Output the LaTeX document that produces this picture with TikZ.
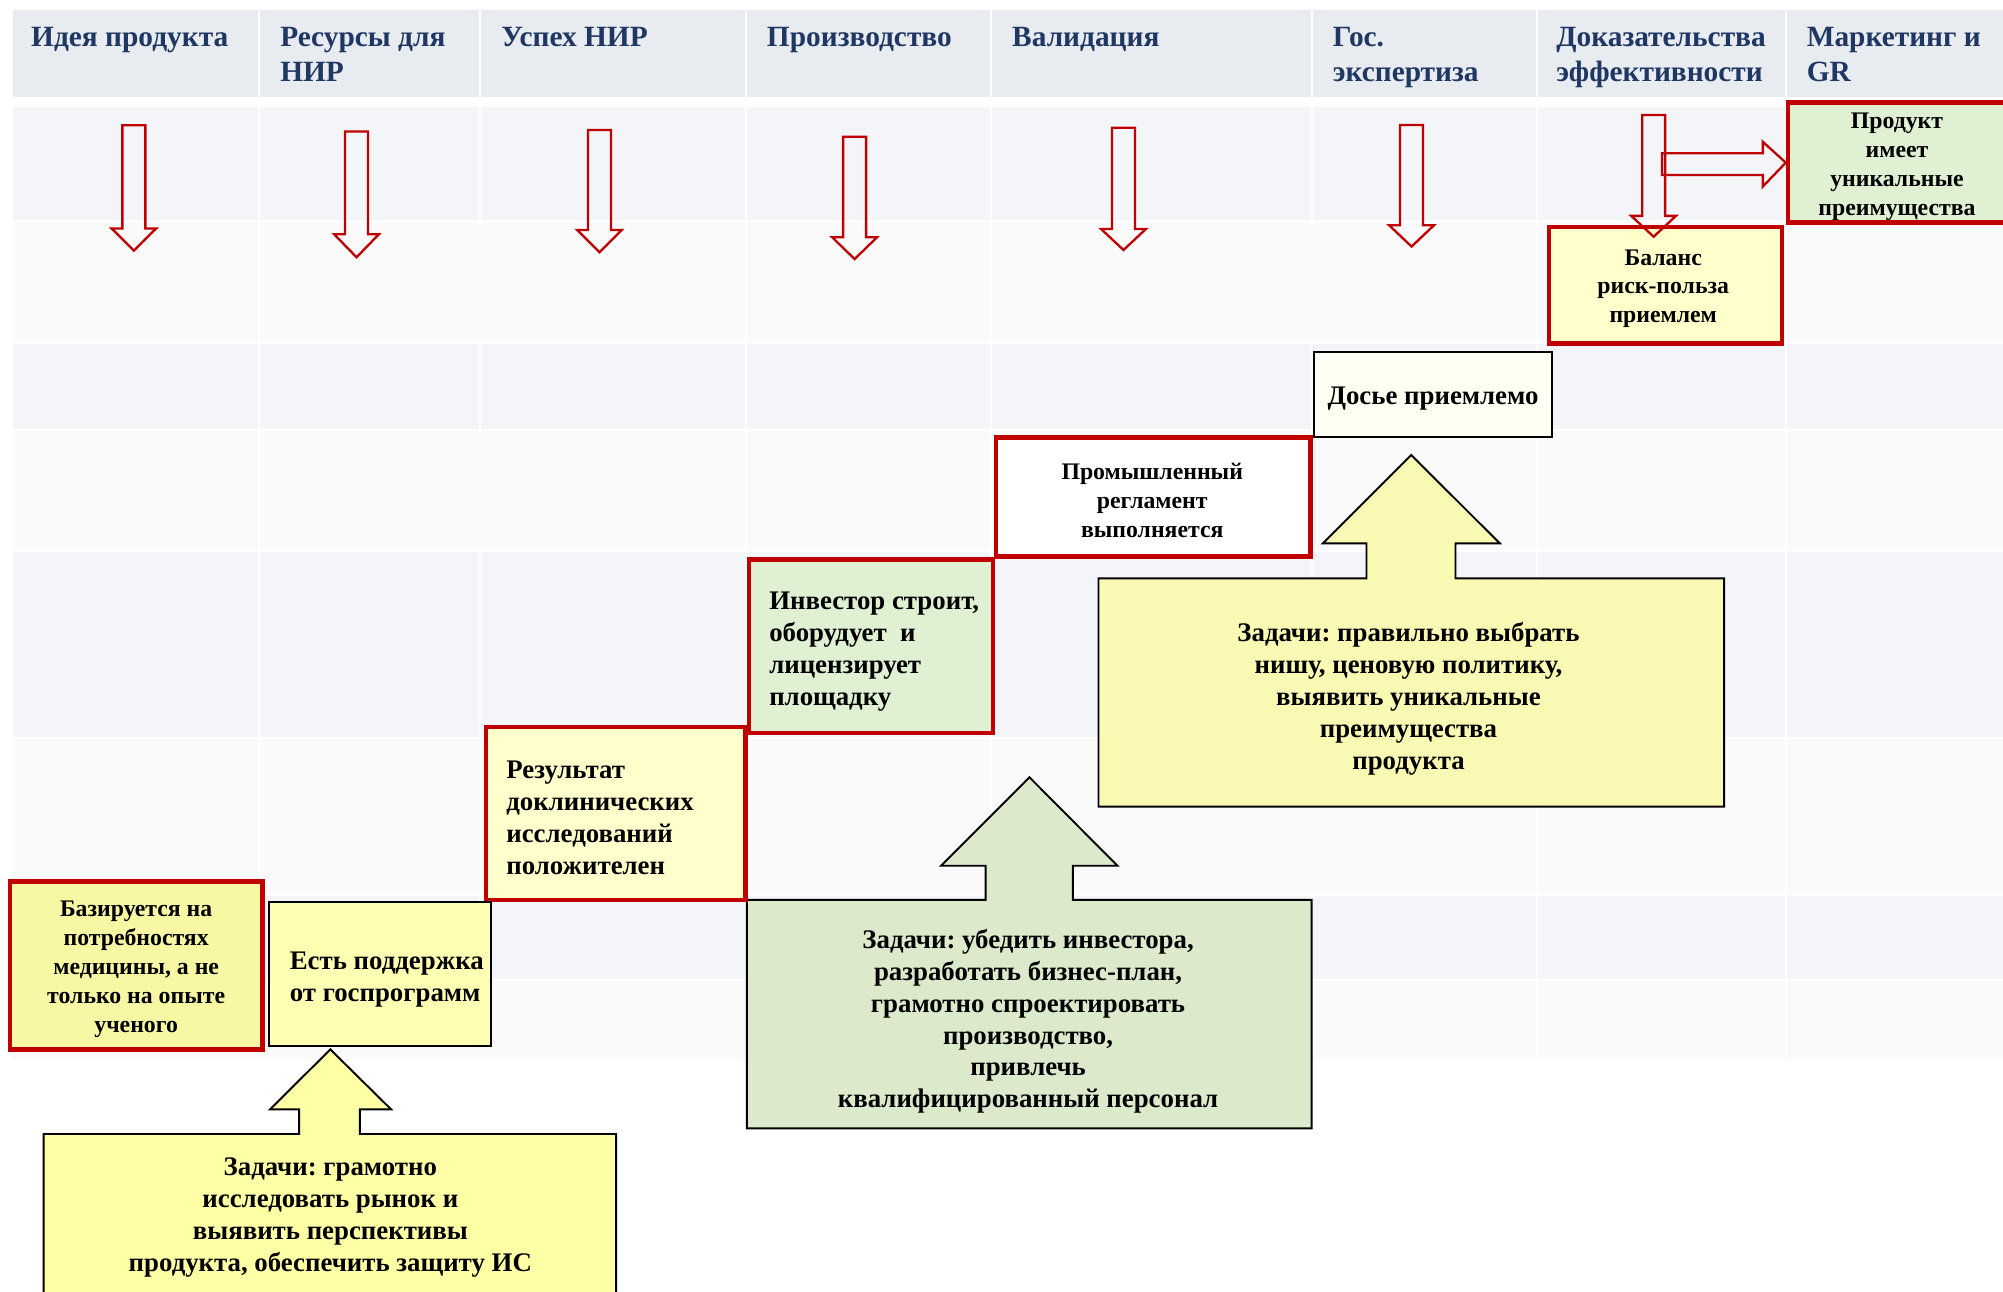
\documentclass[tikz,border=0pt]{standalone}
\usepackage{fontspec}
\setmainfont{Liberation Serif}
\usetikzlibrary{fit}
\frenchspacing
\definecolor{hdrfill}{HTML}{E8EBF0}
\definecolor{rowdark}{HTML}{F4F5F8}
\definecolor{rowlight}{HTML}{FAFAFB}
\definecolor{navy}{HTML}{1F3763}
\definecolor{rred}{HTML}{C00000}
\definecolor{ylwK}{HTML}{FAF9B4}
\definecolor{ylwI}{HTML}{FFFFA5}
\definecolor{grnJ}{HTML}{DCEACB}
\definecolor{grnBox}{HTML}{E0F0D2}
\definecolor{paleyl}{HTML}{FFFFCC}
\definecolor{ylwG}{HTML}{F8F7A4}
\definecolor{ylwH}{HTML}{FFFFB4}
\definecolor{cream}{HTML}{FFFFF4}
\newcommand{\redarrowdown}[4]{%
  \draw[redarr] ({#1-9},#2) -- ({#1+9},#2) -- ({#1+9},#3) -- ({#1+17.5},#3)
    -- (#1,#4) -- ({#1-17.5},#3) -- ({#1-9},#3) -- cycle;}
\begin{document}
\begin{tikzpicture}[x=0.5pt,y=-0.5pt,
  cell/.style={draw=white,line width=0.8pt},
  hdr/.style={font=\fontsize{11.5}{13.5}\selectfont\bfseries\frenchspacing,text=navy,anchor=base west,inner sep=0},
  bigtxt/.style={font=\fontsize{10.5}{12.5}\selectfont\bfseries\frenchspacing,align=center,inner sep=0},
  smalltxt/.style={font=\fontsize{9.3}{11.3}\selectfont\bfseries\frenchspacing,align=center,inner sep=0},
  redbox/.style={draw=rred,line width=1.75pt,inner sep=0},
  blackbox/.style={draw=black,line width=0.75pt,inner sep=0},
  redarr/.style={draw=rred,line width=0.9pt,line join=miter},
  taskarr/.style={draw=black,line width=0.75pt,line join=miter}]
\useasboundingbox (0,0) rectangle (1568,1011);
\clip (0,0) rectangle (1568,1011);
\fill[white] (0,0) rectangle (1568,1011);
% table
\foreach \xa/\xb in {9/203,203/376,376/584,584/776,776/1027,1027/1203,1203/1398,1398/1580}{
  \filldraw[fill=hdrfill,cell] (\xa,7) rectangle (\xb,76.5);
  \foreach \ya/\yb/\c in {82.7/173/rowdark,173/268.7/rowlight,268.7/336.6/rowdark,336.6/431/rowlight,431/577.5/rowdark,577.5/700.6/rowlight,700.6/767/rowdark,767/830/rowlight}{
    \filldraw[fill=\c,cell] (\xa,\ya) rectangle (\xb,\yb);
  }
}
% headers
\node[hdr] (h1) at (24,36.5) {Идея продукта};
\node[hdr] (h2a) at (219,36.5) {Ресурсы для};
\node[hdr] (h2b) at (219,63.8) {НИР};
\node[hdr] (h3) at (392,36.5) {Успех НИР};
\node[hdr] (h4) at (600,36.5) {Производство};
\node[hdr] (h5) at (792,36.5) {Валидация};
\node[hdr] (h6a) at (1043,36.5) {Гос.};
\node[hdr] (h6b) at (1043,63.8) {экспертиза};
\node[hdr] (h7a) at (1218,36.5) {Доказательства};
\node[hdr] (h7b) at (1218,63.8) {эффективности};
\node[hdr] (h8a) at (1414,36.5) {Маркетинг и};
\node[hdr] (h8b) at (1414,63.8) {GR};
% task block arrows
\filldraw[taskarr,fill=ylwK] (859.9,452.7) -- (1069.7,452.7) -- (1069.7,425.3) -- (1035.7,425.3)
  -- (1104.8,356.2) -- (1174,425.3) -- (1139.4,425.3) -- (1139.4,452.7) -- (1349.7,452.7)
  -- (1349.7,631.5) -- (859.9,631.5) -- cycle;
\filldraw[taskarr,fill=grnJ] (584.7,704.5) -- (771.6,704.5) -- (771.6,677.7) -- (736.6,677.7)
  -- (805.9,608.5) -- (874.7,677.7) -- (839.8,677.7) -- (839.8,704.5) -- (1026.8,704.5)
  -- (1026.8,883.3) -- (584.7,883.3) -- cycle;
\filldraw[taskarr,fill=ylwI] (34.2,887.7) -- (234.1,887.7) -- (234.1,868.4) -- (211.4,868.4)
  -- (258.6,821.5) -- (306.1,868.4) -- (281.7,868.4) -- (281.7,887.7) -- (482.3,887.7)
  -- (482.3,1030) -- (34.2,1030) -- cycle;
% step boxes
\node[redbox,fill=grnBox,fit={(1399.7,80.4) (1574,174.3)}] (A) {};
\node[redbox,fill=paleyl,fit={(1212.5,177.5) (1394.8,268.8)}] (B) {};
\node[blackbox,fill=cream,fit={(1028.4,275.3) (1215.2,342.4)}] (C) {};
\node[redbox,fill=white,fit={(779.7,342.4) (1025.7,435.8)}] (D) {};
\node[redbox,fill=grnBox,fit={(586.4,437.9) (777.4,574)}] (E) {};
\node[redbox,fill=paleyl,fit={(380.5,569) (583.7,704.6)}] (F) {};
\node[redbox,fill=ylwG,fit={(7.7,690.2) (205.5,821.4)}] (G) {};
\node[blackbox,fill=ylwH,fit={(210.7,705.9) (384.4,818.9)}] (H) {};
% texts
\node[smalltxt] (At) at (1485,130.5) {Продукт\\имеет\\уникальные\\преимущества};
\node[smalltxt] (Bt) at (1302,226) {Баланс\\риск-польза\\приемлем};
\node[bigtxt] (Ct) at (1121.8,312) {Досье приемлемо};
\node[smalltxt] (Dt) at (902,392) {Промышленный\\регламент\\выполняется};
\node[bigtxt,align=left,anchor=west] (Et) at (601.8,510) {Инвестор строит,\\оборудует\ \ и\\лицензирует\\площадку};
\node[bigtxt,align=left,anchor=west] (Ft) at (396,640) {Результат\\доклинических\\исследований\\положителен};
\node[smalltxt] (Gt) at (106.6,758.7) {Базируется на\\потребностях\\медицины, а не\\только на опыте\\ученого};
\node[bigtxt,align=left,anchor=west] (Ht) at (226.5,767) {Есть поддержка\\от госпрограмм};
\node[bigtxt] (It) at (258.6,953) {Задачи: грамотно\\исследовать рынок и\\выявить перспективы\\продукта, обеспечить защиту ИС};
\node[bigtxt] (Jt) at (804.8,799.5) {Задачи: убедить инвестора,\\разработать бизнес-план,\\грамотно спроектировать\\производство,\\привлечь\\квалифицированный персонал};
\node[bigtxt] (Kt) at (1102.6,546.8) {Задачи: правильно выбрать\\нишу, ценовую политику,\\выявить уникальные\\преимущества\\продукта};
% red down arrows
\redarrowdown{104.8}{98}{178.8}{196.2}
\redarrowdown{279.1}{103}{183.4}{201.4}
\redarrowdown{469.3}{101.8}{180}{197.5}
\redarrowdown{669}{107}{185.8}{202.8}
\redarrowdown{879.5}{100}{179.3}{195.7}
\redarrowdown{1105}{97.9}{176.4}{193}
\redarrowdown{1294.5}{90}{169}{185.3}
% horizontal arrow to A
\draw[redarr] (1301,120) -- (1380,120) -- (1380,111) -- (A.west) -- (1380,146) -- (1380,137) -- (1301,137) -- cycle;
\end{tikzpicture}
\end{document}
